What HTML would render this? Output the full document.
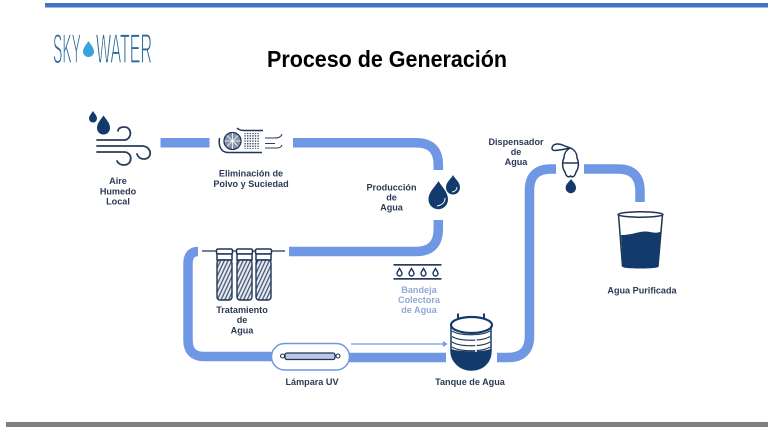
<!DOCTYPE html>
<html lang="es"><head><meta charset="utf-8"><title>Proceso de Generación</title>
<style>
html,body{margin:0;padding:0;background:#fff;width:768px;height:431px;overflow:hidden}
svg{display:block;filter:blur(.35px)}
text{font-family:"Liberation Sans",sans-serif}
.l{font-size:9.100px;font-weight:700;fill:#2b3a55;text-anchor:middle}
.b{fill:#8fa9d8}
.p{fill:none;stroke:#6f97e3;stroke-width:9.500}
.d{fill:#123a6b}
.o{fill:none;stroke:#1f3557;stroke-width:1.500}
</style></head><body>
<svg width="768" height="431" viewBox="0 0 768 431" xmlns="http://www.w3.org/2000/svg">
<defs>
<pattern id="h" width="3.400" height="3.400" patternUnits="userSpaceOnUse" patternTransform="rotate(25)"><rect width="3.400" height="3.400" fill="#e8ecf2"/><rect width="1.300" height="3.400" fill="#4a5a75"/></pattern>
<pattern id="g" width="2.600" height="2.600" patternUnits="userSpaceOnUse"><rect width="2.600" height="2.600" fill="#fff"/><rect width="1.400" height="1.400" fill="#33486a"/></pattern>
</defs>
<rect x="45" y="3" width="723" height="4.500" fill="#4472c4"/>
<rect x="6" y="422" width="762" height="5" fill="#7f7f7f"/>

<!-- logo -->
<g fill="#2a6595" stroke="#fff" stroke-width="1.200" style="paint-order:fill stroke">
<text x="53" y="63" font-size="42" textLength="28" lengthAdjust="spacingAndGlyphs">SKY</text>
<text x="96" y="63" font-size="42" textLength="56" lengthAdjust="spacingAndGlyphs">WATER</text>
</g>
<path d="M88.500 41C91 45 94 48 94 51.500A5.500 5.500 0 0 1 83 51.500C83 48 86 45 88.500 41Z" fill="#35a4dc"/>

<text x="387" y="67" font-size="23" font-weight="700" fill="#000" text-anchor="middle" textLength="240" lengthAdjust="spacingAndGlyphs">Proceso de Generación</text>

<!-- pipes -->
<path class="p" d="M160.500 142.700H209.500"/>
<path class="p" d="M293 142.700H416Q438.300 142.700 438.300 165V170"/>
<path class="p" d="M438.300 220V229Q438.300 251.500 416 251.500H289"/>
<path class="p" d="M198 251.500Q188 251.500 188 264V340Q188 356.500 204 356.500H275"/>
<path class="p" d="M346 357.500H446"/>
<path class="p" d="M497 357.500H508Q529.500 357.500 529.500 336V190Q529.500 169 551 169H556"/>
<path class="p" d="M584 169H618Q640 169 640 191V202"/>
<path d="M351 344H445" stroke="#6f97e3" stroke-width="1.300" fill="none"/>
<path d="M443 341L447.500 344L443 347Z" fill="#6f97e3"/>

<!-- air icon -->
<path class="d" d="M93 111C95 114 97 116 97 118.500A4 4 0 0 1 89 118.500C89 116 91 114 93 111Z"/>
<path class="d" d="M103.500 115.500C106.500 120 110 123 110 128A6.500 6.500 0 0 1 97 128C97 123 100.500 120 103.500 115.500Z"/>
<g fill="none" stroke="#2a3c5c" stroke-width="1.800" stroke-linecap="round">
<path d="M97 140H124C132 140 133 127 124 127C120 127 118 129 118 131"/>
<path d="M97 146H142C152 146 153 159 144 159C140 159 138 157 137 154"/>
<path d="M97 152H124C133 152 133 165 124 165C120 165 118 163 117 161"/>
</g>

<!-- filter icon -->
<circle cx="232.500" cy="141" r="8.500" fill="#8794aa" stroke="#1f3557" stroke-width="1.300"/>
<path d="M232.500 133V149M224.500 141H240.500M227 135.500L238 146.500M238 135.500L227 146.500" stroke="#fff" stroke-width=".8"/>
<rect x="244" y="133" width="16" height="16" fill="url(#g)"/>
<path d="M219.500 138C218 147 222 152.500 228 152.500H262M237 128C239 130 241 130.500 244 130.500H263" class="o"/>
<path d="M265 138H274C279 138 281 137 282 134M265 143.500H275M265 148H277C280 148 281 147 282 145" fill="none" stroke="#2a3c5c" stroke-width="1"/>

<!-- production drops -->
<path class="d" d="M438.500 181C442 187 448 192 448 199.500A9.700 9.700 0 0 1 428.500 199.500C428.500 192 435 187 438.500 181Z"/>
<path d="M445 198C445 203 442 205 437 206" fill="none" stroke="#fff" stroke-width="1"/>
<path class="d" d="M453 175C455 179 460 182 460 187.500A7 7 0 0 1 446 187.500C446 182 451 179 453 175Z"/>
<path d="M457 187C457 190 455 191.500 452 192" fill="none" stroke="#fff" stroke-width=".9"/>

<!-- tray -->
<rect x="393.500" y="264" width="48" height="1.700" fill="#2a3c5c"/>
<rect x="393.500" y="278" width="48" height="1.700" fill="#2a3c5c"/>
<g fill="#fff" stroke="#1f3557" stroke-width="1.400">
<path d="M399.500 268.500C401 271 402 272 402 273.500A2.500 2.500 0 0 1 397 273.500C397 272 398 271 399.500 268.500Z"/>
<path d="M411.500 268.500C413 271 414 272 414 273.500A2.500 2.500 0 0 1 409 273.500C409 272 410 271 411.500 268.500Z"/>
<path d="M423.500 268.500C425 271 426 272 426 273.500A2.500 2.500 0 0 1 421 273.500C421 272 422 271 423.500 268.500Z"/>
<path d="M435.500 268.500C437 271 438 272 438 273.500A2.500 2.500 0 0 1 433 273.500C433 272 434 271 435.500 268.500Z"/>
</g>

<!-- filters -->
<path d="M202 251H285" stroke="#1f3557" stroke-width="1.300"/>
<g>
<rect x="216.500" y="249" width="16" height="5" rx="1.500" fill="#fff" class="o" style="fill:#fff"/>
<rect x="217" y="254" width="15" height="6" class="o" style="fill:#fff"/>
<rect x="217" y="260" width="15" height="40" rx="3" fill="url(#h)" stroke="#1f3557" stroke-width="1.400"/>
</g>
<g>
<rect x="236.500" y="249" width="16" height="5" rx="1.500" class="o" style="fill:#fff"/>
<rect x="237" y="254" width="15" height="6" class="o" style="fill:#fff"/>
<rect x="237" y="260" width="15" height="40" rx="3" fill="url(#h)" stroke="#1f3557" stroke-width="1.400"/>
</g>
<g>
<rect x="255.500" y="249" width="16" height="5" rx="1.500" class="o" style="fill:#fff"/>
<rect x="256" y="254" width="15" height="6" class="o" style="fill:#fff"/>
<rect x="256" y="260" width="15" height="40" rx="3" fill="url(#h)" stroke="#1f3557" stroke-width="1.400"/>
</g>

<!-- UV lamp -->
<rect x="271.500" y="343.500" width="78" height="26.500" rx="13.200" fill="#fff" stroke="#6f97e3" stroke-width="1.500"/>
<rect x="285" y="353" width="50" height="6.500" rx="2" fill="#b9c8e0" stroke="#1f3557" stroke-width="1.300"/>
<circle cx="282.500" cy="356" r="2" fill="#fff" stroke="#1f3557" stroke-width="1.100"/>
<circle cx="338" cy="356" r="2" fill="#fff" stroke="#1f3557" stroke-width="1.100"/>

<!-- tank -->
<path d="M451 325V351C451 361 460 370 471 370C484 370 491 361 491 351V325Z" fill="#fff" stroke="#123a6b" stroke-width="1.500"/>
<path class="d" d="M451.500 349C458 352 484 352 490.500 349V352C490.500 362 483 370.500 471 370.500C459 370.500 451.500 362 451.500 352Z"/>
<g fill="none" stroke="#2a3c5c" stroke-width="1.200">
<path d="M452 331C460 336 482 336 490 331"/>
<path d="M452 336.500C460 341.500 482 341.500 490 336.500"/>
<path d="M452 342C460 347 482 347 490 342"/>
<path d="M452 347C460 352 482 352 490 347"/>
</g>
<path d="M476 335V352" stroke="#fff" stroke-width="1.500"/>
<path d="M458 318V313.500M484 318V313.500" stroke="#123a6b" stroke-width="2"/>
<ellipse cx="471.500" cy="325" rx="20.500" ry="8" fill="#fff" stroke="#123a6b" stroke-width="2.200"/>

<!-- dispenser -->
<path d="M552 148C553 143 559 143 565 146L570 148C566 149 560 150 555 150.500C553 150.500 552 150 552 148Z" fill="#fff" stroke="#1f3557" stroke-width="1.500"/>
<path d="M570.500 148C575 150 577 154 577 158C579 162 579 168 576 172C575 176 573 178 570.500 176C568 178 566 176 565 172C562 168 562 162 564 158C564 154 566 150 570.500 148Z" fill="#fff" stroke="#1f3557" stroke-width="1.500"/>
<path d="M563.500 163H578" class="o"/>
<path class="d" d="M571 179C573 182 576 184 576 188A5.200 5.200 0 0 1 565.600 188C565.600 184 569 182 571 179Z"/>

<!-- glass -->
<path d="M618.500 214.500L622.500 266H658L662.500 214.500" fill="#fff" stroke="#1f3557" stroke-width="1.500"/>
<ellipse cx="640.500" cy="214.500" rx="22.500" ry="2.700" fill="#fff" stroke="#1f3557" stroke-width="1.500"/>
<path class="d" d="M621 235C633 235 641 230 650 232C655 233 658 233 661 231.500L658 267C657 269 624 269 623 267Z"/>

<!-- labels -->
<text class="l" x="118" y="184">Aire</text>
<text class="l" x="118" y="194.300">Humedo</text>
<text class="l" x="118" y="204.500">Local</text>
<text class="l" x="251" y="176.500">Eliminación de</text>
<text class="l" x="251" y="187">Polvo y Suciedad</text>
<text class="l" x="391.500" y="190.500">Producción</text>
<text class="l" x="391.500" y="200.500">de</text>
<text class="l" x="391.500" y="210.500">Agua</text>
<text class="l" x="516" y="145">Dispensador</text>
<text class="l" x="516" y="155">de</text>
<text class="l" x="516" y="165">Agua</text>
<text class="l b" x="419" y="293">Bandeja</text>
<text class="l b" x="419" y="303">Colectora</text>
<text class="l b" x="419" y="313">de Agua</text>
<text class="l" x="642" y="293.500">Agua Purificada</text>
<text class="l" x="242" y="313">Tratamiento</text>
<text class="l" x="242" y="323">de</text>
<text class="l" x="242" y="333.500">Agua</text>
<text class="l" x="312" y="385">Lámpara UV</text>
<text class="l" x="470" y="385">Tanque de Agua</text>
</svg>
</body></html>
